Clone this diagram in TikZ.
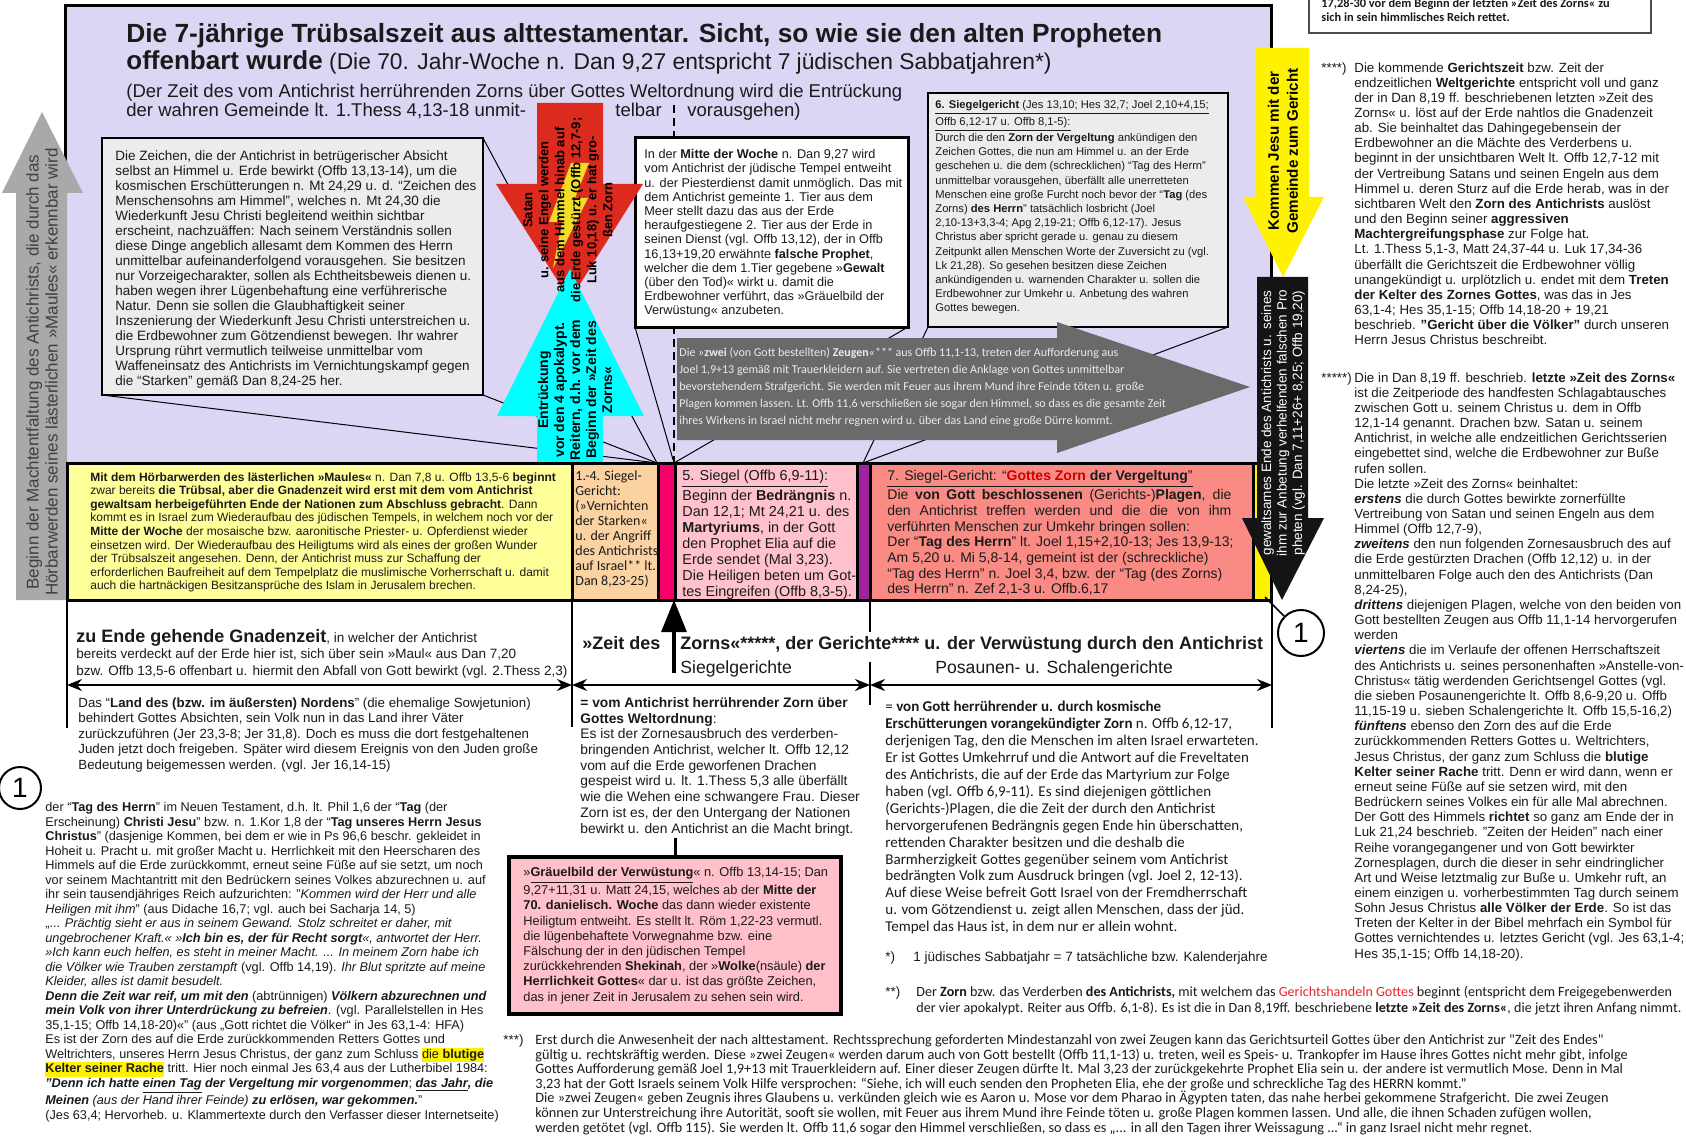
\documentclass[tikz,border=0pt]{standalone}
\usepackage{fontspec}
\setmainfont{Liberation Sans}
\newfontfamily\calfont{Carlito}
\usetikzlibrary{fit,arrows.meta}
\newcommand\fs[2]{\fontsize{#1pt}{#2pt}\selectfont}
\newcommand\jl[1]{\makebox[172pt][s]{#1}}
\newcommand\hly[1]{{\setlength{\fboxsep}{0pt}\colorbox{yellow}{\strut #1}}}
\definecolor{lav}{HTML}{DCD6F4}
\definecolor{boxg}{HTML}{ECECEC}
\definecolor{ycell}{HTML}{FFFF99}
\definecolor{ocell}{HTML}{FBD3A3}
\definecolor{mcell}{HTML}{F5006A}
\definecolor{pcell}{HTML}{FFC1CC}
\definecolor{vcell}{HTML}{A0229F}
\definecolor{scell}{HTML}{F98B84}
\definecolor{redA}{HTML}{DC2A1E}
\definecolor{bolt}{HTML}{F2DC28}
\definecolor{cyanA}{HTML}{00FFFF}
\definecolor{grayA}{HTML}{A9A9A9}
\definecolor{darkA}{HTML}{6A6A6A}
\definecolor{grb}{HTML}{FFC0C9}
\definecolor{zred}{HTML}{CC0000}
\definecolor{gred}{HTML}{E8262B}
\definecolor{ink}{HTML}{1A1A1A}
\begin{document}
\begin{tikzpicture}[x=0.5pt,y=-0.5pt,
  tx/.style={anchor=north west, inner sep=0pt, align=left, text=ink},
  tb/.style={anchor=base west, inner sep=0pt, text=ink},
  rot/.style={rotate=90, inner sep=0pt, align=center},
  area/.style={inner sep=0pt, draw=black},
  ptr/.style={draw=black, line width=0.5pt},
  vl/.style={draw=black, line width=1pt},
  harr/.style={draw=black, line width=1pt, {Stealth[length=7.5pt,width=6pt]}-{Stealth[length=7.5pt,width=6pt]}}]
\useasboundingbox (0,0) rectangle (1686,1139);
\fill[white] (0,0) rectangle (1686,1139);
\clip (0,0) rectangle (1686,1139);

% top right box (cut off)
\node[fit={(1309,-20) (1651,33)}, area, fill=white, draw=black!70, line width=0.6pt] (trbox) {};
\node[tx, font=\calfont\bfseries\fs{6.2}{7}] (trtext) at (1321,-2) {17,28-30 vor dem Beginn der letzten »Zeit des Zorns« zu\\sich in sein himmlisches Reich rettet.};

% lavender area
\node[fit={(65,6) (1271,463)}, area, fill=lav, line width=1.5pt] (lav) {};

% titles
\node[tb, font=\bfseries\fs{13.15}{15}] (t1) at (126,43) {Die 7-jährige Trübsalszeit aus alttestamentar. Sicht, so wie sie den alten Propheten};
\node[tb, font=\fs{11.4}{14}] (t2) at (126,70) {{\bfseries\fs{13}{15}offenbart wurde} (Die 70. Jahr-Woche n. Dan 9,27 entspricht 7 jüdischen Sabbatjahren*)};
\node[tb, font=\fs{9.25}{10}] (t3) at (126,98) {(Der Zeit des vom Antichrist herrührenden Zorns über Gottes Weltordnung wird die Entrückung};
\node[tb, font=\fs{9.25}{10}] (t4a) at (126,117) {der wahren Gemeinde lt. 1.Thess 4,13-18 unmit-};
\node[tb, font=\fs{9.25}{10}] (t4b) at (615,117) {telbar};
\node[tb, font=\fs{9.25}{10}] (t4c) at (687,117) {vorausgehen)};

% dashed middle line and pointer targets
\coordinate (dtop) at (674,105);
\coordinate (pB) at (674,463);
\coordinate (pA) at (657,463);
\coordinate (pC) at (863,463);
\draw[line width=1.3pt, dash pattern=on 4pt off 2.5pt] (dtop) -- (pB);

% boxes (geometry)
\coordinate (lbNW) at (102,138); \coordinate (lbSE) at (483,395);
\coordinate (mbNW) at (635,138); \coordinate (mbSE) at (908,327);
\coordinate (sbNW) at (928,93);  \coordinate (sbSE) at (1228,327);

% pointer lines
\draw[ptr] (483,138) -- (pA);
\draw[ptr] (483,395) -- (pA);
\draw[ptr] (102,395) -- (pA);
\draw[ptr] (635,327) -- (pB);
\draw[ptr] (908,327) -- (pB);
\draw[ptr] (928,327) -- (pC);
\draw[ptr] (1228,327) -- (pC);

% callout boxes
\node[fit=(lbNW)(lbSE), area, fill=boxg, line width=1pt] (lbox) {};
\node[fit=(mbNW)(mbSE), area, fill=white, line width=1.5pt] (mbox) {};
\node[fit=(sbNW)(sbSE), area, fill=boxg, line width=1pt] (sbox) {};

\node[tx, font=\fs{6.75}{7.5}] (lbtxt) at (115,150) {Die Zeichen, die der Antichrist in betrügerischer Absicht\\selbst an Himmel u. Erde bewirkt (Offb 13,13-14), um die\\kosmischen Erschütterungen n. Mt 24,29 u. d. “Zeichen des\\Menschensohns am Himmel”, welches n. Mt 24,30 die\\Wiederkunft Jesu Christi begleitend weithin sichtbar\\erscheint, nachzuäffen: Nach seinem Verständnis sollen\\diese Dinge angeblich allesamt dem Kommen des Herrn\\unmittelbar aufeinanderfolgend vorausgehen. Sie besitzen\\nur Vorzeigecharakter, sollen als Echtheitsbeweis dienen u.\\haben wegen ihrer Lügenbehaftung eine verführerische\\Natur. Denn sie sollen die Glaubhaftigkeit seiner\\Inszenierung der Wiederkunft Jesu Christi unterstreichen u.\\die Erdbewohner zum Götzendienst bewegen. Ihr wahrer\\Ursprung rührt vermutlich teilweise unmittelbar vom\\Waffeneinsatz des Antichrists im Vernichtungskampf gegen\\die “Starken” gemäß Dan 8,24-25 her.};

\node[tx, font=\fs{6.35}{7.1}] (mbtxt) at (644,149) {In der \textbf{Mitte der Woche} n. Dan 9,27 wird\\vom Antichrist der jüdische Tempel entweiht\\u. der Piesterdienst damit unmöglich. Das mit\\dem Antichrist gemeinte 1. Tier aus dem\\Meer stellt dazu das aus der Erde\\heraufgestiegene 2. Tier aus der Erde in\\seinen Dienst (vgl. Offb 13,12), der in Offb\\16,13+19,20 erwähnte \textbf{falsche Prophet},\\welcher die dem 1.Tier gegebene »\textbf{Gewalt}\\(über den Tod)« wirkt u. damit die\\Erdbewohner verführt, das »Gräuelbild der\\Verwüstung« anzubeten.};

\node[tx, font=\fs{5.6}{7.1}] (sbtxt) at (935,100) {\underline{\textbf{6. Siegelgericht} (Jes 13,10; Hes 32,7; Joel 2,10+4,15;}\\\underline{Offb 6,12-17 u. Offb 8,1-5):}\\Durch die den \textbf{Zorn der Vergeltung} ankündigen den\\Zeichen Gottes, die nun am Himmel u. an der Erde\\geschehen u. die dem (schrecklichen) “Tag des Herrn”\\unmittelbar vorausgehen, überfällt alle unerretteten\\Menschen eine große Furcht noch bevor der “\textbf{Tag} (des\\Zorns) \textbf{des Herrn}” tatsächlich losbricht (Joel\\2,10-13+3,3-4; Apg 2,19-21; Offb 6,12-17). Jesus\\Christus aber spricht gerade u. genau zu diesem\\Zeitpunkt allen Menschen Worte der Zuversicht zu (vgl.\\Lk 21,28). So gesehen besitzen diese Zeichen\\ankündigenden u. warnenden Charakter u. sollen die\\Erdbewohner zur Umkehr u. Anbetung des wahren\\Gottes bewegen.};

% dark gray arrow
\fill[darkA] (677,338) -- (1057,338) -- (1057,322) -- (1250,387) -- (1057,453) -- (1057,440) -- (677,440) -- cycle;
\node[tx, font=\calfont\fs{6}{8.5}, text=white!92!black] (gatxt) at (679,347) {Die »\textbf{zwei} (von Gott bestellten) \textbf{Zeugen}«*** aus Offb 11,1-13, treten der Aufforderung aus\\Joel 1,9+13 gemäß mit Trauerkleidern auf. Sie vertreten die Anklage von Gottes unmittelbar\\bevorstehendem Strafgericht. Sie werden mit Feuer aus ihrem Mund ihre Feinde töten u. große\\Plagen kommen lassen. Lt. Offb 11,6 verschließen sie sogar den Himmel, so dass es die gesamte Zeit\\ihres Wirkens in Israel nicht mehr regnen wird u. über das Land eine große Dürre kommt.};

% red and cyan arrows
\fill[redA] (537,103) -- (603,103) -- (603,184) -- (643,184) -- (570,300) -- (496,184) -- (537,184) -- cycle;
\fill[bolt] (571,163) -- (589,163) -- (575,198) -- (588,198) -- (553,268) -- (562,222) -- (549,222) -- cycle;
\fill[cyanA] (570,269) -- (644,416) -- (603,416) -- (603,463) -- (537,463) -- (537,416) -- (497,416) -- cycle;
\node[rot, font=\bfseries\fs{6.5}{8}] (redtxt) at (568,210) {Satan\\u. seine Engel werden\\aus dem Himmel hinab auf\\die Erde gestürzt (Offb 12,7-9;\\Luk 10,18) u. er hat gro-\\ßen Zorn};
\node[rot, font=\bfseries\fs{7}{8}] (cyantxt) at (575,390) {Entrückung\\vor den 4 apokalypt.\\Reitern, d.h. vor dem\\Beginn der »Zeit des\\Zorns«};

% left gray arrow
\fill[grayA] (16,600) -- (16,193) -- (2,193) -- (42,112) -- (83,193) -- (67,193) -- (67,600) -- cycle;
\node[rot, font=\fs{8.5}{9.5}, text=black!75] (graytxt) at (42,372) {Beginn der Machtentfaltung des Antichrists, die durch das\\Hörbarwerden seines lästerlichen »Maules« erkennbar wird};

% timeline cells
\node[fit={(67,463) (572,600)}, area, fill=ycell, line width=1.5pt] (cY) {};
\node[fit={(572,463) (658,600)}, area, fill=ocell, line width=1.5pt] (cO) {};
\node[fit={(658,463) (675,600)}, area, fill=mcell, line width=1.5pt] (cM) {};
\node[fit={(675,463) (857,600)}, area, fill=pcell, line width=1.5pt] (cP) {};
\node[fit={(857,463) (870,600)}, area, fill=vcell, line width=1.5pt] (cV) {};
\node[fit={(870,463) (1253,600)}, area, fill=scell, line width=1.5pt] (cS) {};
\node[fit={(1253,463) (1271,600)}, area, fill=yellow, line width=1.5pt] (cYs) {};

\node[tx, font=\fs{6}{6.8}] (ytxt) at (90,472) {\textbf{Mit dem Hörbarwerden des lästerlichen »Maules«} n. Dan 7,8 u. Offb 13,5-6 \textbf{beginnt}\\zwar bereits \textbf{die Trübsal, aber die Gnadenzeit wird erst mit dem vom Antichrist}\\\textbf{gewaltsam herbeigeführten Ende der Nationen zum Abschluss gebracht}. Dann\\kommt es in Israel zum Wiederaufbau des jüdischen Tempels, in welchem noch vor der\\\textbf{Mitte der Woche} der mosaische bzw. aaronitische Priester- u. Opferdienst wieder\\einsetzen wird. Der Wiederaufbau des Heiligtums wird als eines der großen Wunder\\der Trübsalszeit angesehen. Denn, der Antichrist muss zur Schaffung der\\erforderlichen Baufreiheit auf dem Tempelplatz die muslimische Vorherrschaft u. damit\\auch die hartnäckigen Besitzansprüche des Islam in Jerusalem brechen.};
\node[tx, font=\calfont\fs{7}{7.5}] (otxt) at (575,470) {1.-4. Siegel-\\Gericht:\\(»Vernichten\\der Starken«\\u. der Angriff\\des Antichrists\\auf Israel** lt.\\Dan 8,23-25)};
\node[tx, font=\fs{7.2}{8}] (ptxt) at (682,470) {\underline{5. Siegel (Offb 6,9-11):}\\Beginn der \textbf{Bedrängnis} n.\\Dan 12,1; Mt 24,21 u. des\\\textbf{Martyriums}, in der Gott\\den Prophet Elia auf die\\Erde sendet (Mal 3,23).\\Die Heiligen beten um Got-\\tes Eingreifen (Offb 8,3-5).};
\node[tx, font=\fs{7}{7.85}] (stxt) at (887,470) {\underline{7. Siegel-Gericht: “\textcolor{zred}{\textbf{Gottes Zorn}} \textbf{der Vergeltung}”}\\\jl{Die \textbf{von Gott beschlossenen} (Gerichts-)\textbf{Plagen}, die}\\\jl{den Antichrist treffen werden und die die von ihm}\\verführten Menschen zur Umkehr bringen sollen:\\Der “\textbf{Tag des Herrn}” lt. Joel 1,15+2,10-13; Jes 13,9-13;\\Am 5,20 u. Mi 5,8-14, gemeint ist der (schreckliche)\\“Tag des Herrn” n. Joel 3,4, bzw. der “Tag (des Zorns)\\des Herrn” n. Zef 2,1-3 u. Offb.6,17};

% yellow and black arrows (right)
\fill[yellow] (1256,48) -- (1309,48) -- (1309,197) -- (1324,197) -- (1283,277) -- (1243,197) -- (1256,197) -- cycle;
\node[rot, font=\bfseries\fs{7.6}{9.5}] (yatxt) at (1283,151) {Kommen Jesu mit der\\Gemeinde zum Gericht};
\fill[black!92] (1257,277) -- (1308,277) -- (1308,518) -- (1324,518) -- (1282,600) -- (1242,518) -- (1257,518) -- cycle;
\node[rot, font=\fs{6.75}{7.75}, text=white] (batxt) at (1283,423) {gewaltsames Ende des Antichrists u. seines\\ihm zur Anbetung verhelfenden falschen Pro\\pheten (vgl. Dan 7,11+26+ 8,25; Offb 19,20)};

% time axis
\coordinate (v0a) at (67,600);   \coordinate (v0b) at (67,728);
\coordinate (v1a) at (572,600);  \coordinate (v1b) at (572,727);
\coordinate (v2a) at (870,600);  \coordinate (v2b) at (870,632);
\coordinate (v2c) at (870,662);  \coordinate (v2d) at (870,705);
\coordinate (v3a) at (1272,600); \coordinate (v3b) at (1272,728);
\draw[vl] (v0a) -- (v0b); \draw[vl] (v1a) -- (v1b);
\draw[vl] (v2a) -- (v2b); \draw[vl] (v2c) -- (v2d);
\draw[vl] (v3a) -- (v3b);
\coordinate (h0) at (67,685); \coordinate (h1) at (572,685);
\coordinate (h2) at (870,685); \coordinate (h3) at (1272,685);
\draw[harr] (h0) -- (h1);
\draw[harr] (h1) -- (h2);
\draw[harr] (h2) -- (h3);
\coordinate (upb) at (674,673); \coordinate (upt) at (674,600);
\draw[line width=1.6pt, -{Triangle[length=16pt,width=12.5pt]}] (upb) -- (upt);

\node[tb, font=\fs{6.75}{7.75}] (ze1) at (76,642) {{\bfseries\fs{9}{10}zu Ende gehende Gnadenzeit}, in welcher der Antichrist};
\node[tb, font=\fs{6.75}{7.75}] (ze2) at (76,658) {bereits verdeckt auf der Erde hier ist, sich über sein »Maul« aus Dan 7,20};
\node[tb, font=\fs{6.75}{7.75}] (ze3) at (76,675) {bzw. Offb 13,5-6 offenbart u. hiermit den Abfall von Gott bewirkt (vgl. 2.Thess 2,3)};
\node[tb, font=\bfseries\fs{9}{10}] (zd1) at (582,649) {»Zeit des};
\node[tb, font=\bfseries\fs{9}{10}] (zd2) at (680,649) {Zorns«*****, der Gerichte**** u. der Verwüstung durch den Antichrist};
\node[tb, font=\fs{8.8}{10}] (sg) at (680,673) {Siegelgerichte};
\node[tb, font=\fs{8.8}{10}] (ps) at (935,673) {Posaunen- u. Schalengerichte};

% circles
\node[circle, draw, line width=1pt, minimum size=23pt, inner sep=0pt, font=\fs{14}{16}] (c1r) at (1301,633) {1};
\coordinate (bap) at (1265,597);
\draw[line width=0.8pt] (bap) -- (c1r);
\node[circle, draw, line width=1pt, minimum size=21pt, inner sep=0pt, font=\fs{14}{16}] (c1l) at (20,788) {1};

% lower texts
\node[tx, font=\fs{6.65}{7.75}] (landtxt) at (78,697) {Das “\textbf{Land des (bzw. im äußersten) Nordens}” (die ehemalige Sowjetunion)\\behindert Gottes Absichten, sein Volk nun in das Land ihrer Väter\\zurückzuführen (Jer 23,3-8; Jer 31,8). Doch es muss die dort festgehaltenen\\Juden jetzt doch freigeben. Später wird diesem Ereignis von den Juden große\\Bedeutung beigemessen werden. (vgl. Jer 16,14-15)};

\node[tx, font=\fs{6.9}{7.85}] (midtxt) at (580,697) {\textbf{= vom Antichrist herrührender Zorn über}\\\textbf{Gottes Weltordnung}:\\Es ist der Zornesausbruch des verderben-\\bringenden Antichrist, welcher lt. Offb 12,12\\vom auf die Erde geworfenen Drachen\\gespeist wird u. lt. 1.Thess 5,3 alle überfällt\\wie die Wehen eine schwangere Frau. Dieser\\Zorn ist es, der den Untergang der Nationen\\bewirkt u. den Antichrist an die Macht bringt.};

\node[fit={(509,857) (841,1014)}, area, fill=grb, line width=1.6pt] (grbox) {};
\coordinate (mtb) at (675,838);
\draw[line width=1.5pt] (mtb) -- (grbox.north);
\node[tx, font=\fs{6.4}{7.6}] (grtxt) at (523,867) {»\underline{\textbf{Gräuelbild der Verwüstung}}« n. Offb 13,14-15; Dan\\9,27+11,31 u. Matt 24,15, welches ab der \textbf{Mitte der}\\\textbf{70. danielisch. Woche} das dann wieder existente\\Heiligtum entweiht. Es stellt lt. Röm 1,22-23 vermutl.\\die lügenbehaftete Vorwegnahme bzw. eine\\Fälschung der in den jüdischen Tempel\\zurückkehrenden \textbf{Shekinah}, der »\textbf{Wolke}(nsäule) \textbf{der}\\\textbf{Herrlichkeit Gottes}« dar u. ist das größte Zeichen,\\das in jener Zeit in Jerusalem zu sehen sein wird.};

\node[tx, font=\calfont\fs{7.5}{8.45}] (rmtxt) at (885,701) {= \textbf{von Gott herrührender u. durch kosmische}\\\textbf{Erschütterungen vorangekündigter Zorn} n. Offb 6,12-17,\\derjenigen Tag, den die Menschen im alten Israel erwarteten.\\Er ist Gottes Umkehrruf und die Antwort auf die Freveltaten\\des Antichrists, die auf der Erde das Martyrium zur Folge\\haben (vgl. Offb 6,9-11). Es sind diejenigen göttlichen\\(Gerichts-)Plagen, die die Zeit der durch den Antichrist\\hervorgerufenen Bedrängnis gegen Ende hin überschatten,\\rettenden Charakter besitzen und die deshalb die\\Barmherzigkeit Gottes gegenüber seinem vom Antichrist\\bedrängten Volk zum Ausdruck bringen (vgl. Joel 2, 12-13).\\Auf diese Weise befreit Gott Israel von der Fremdherrschaft\\u. vom Götzendienst u. zeigt allen Menschen, dass der jüd.\\Tempel das Haus ist, in dem nur er allein wohnt.};

\node[tb, font=\fs{6.75}{8}] (f1m) at (885,961) {*)};
\node[tb, font=\fs{6.75}{8}] (f1t) at (913,961) {1 jüdisches Sabbatjahr = 7 tatsächliche bzw. Kalenderjahre};

\node[tx, font=\fs{6.7}{8}] (f2m) at (885,986) {**)};
\node[tx, font=\calfont\fs{7.05}{8}] (f2t) at (916,986) {Der \textbf{Zorn} bzw. das Verderben \textbf{des Antichrists,} mit welchem das \textcolor{gred}{Gerichtshandeln Gottes} beginnt (entspricht dem Freigegebenwerden\\der vier apokalypt. Reiter aus Offb. 6,1-8). Es ist die in Dan 8,19ff. beschriebene \textbf{letzte »Zeit des Zorns«}, die jetzt ihren Anfang nimmt.};

\node[tx, font=\fs{6.7}{8}] (f3m) at (503,1034) {***)};
\node[tx, font=\calfont\fs{7.15}{7.33}] (f3t) at (535,1034) {Erst durch die Anwesenheit der nach alttestament. Rechtssprechung geforderten Mindestanzahl von zwei Zeugen kann das Gerichtsurteil Gottes über den Antichrist zur "Zeit des Endes"\\gültig u. rechtskräftig werden. Diese »zwei Zeugen« werden darum auch von Gott bestellt (Offb 11,1-13) u. treten, weil es Speis- u. Trankopfer im Hause ihres Gottes nicht mehr gibt, infolge\\Gottes Aufforderung gemäß Joel 1,9+13 mit Trauerkleidern auf. Einer dieser Zeugen dürfte lt. Mal 3,23 der zurückgekehrte Prophet Elia sein u. der andere ist vermutlich Mose. Denn in Mal\\3,23 hat der Gott Israels seinem Volk Hilfe versprochen: “Siehe, ich will euch senden den Propheten Elia, ehe der große und schreckliche Tag des HERRN kommt.”\\Die »zwei Zeugen« geben Zeugnis ihres Glaubens u. verkünden gleich wie es Aaron u. Mose vor dem Pharao in Ägypten taten, das nahe herbei gekommene Strafgericht. Die zwei Zeugen\\können zur Unterstreichung ihre Autorität, sooft sie wollen, mit Feuer aus ihrem Mund ihre Feinde töten u. große Plagen kommen lassen. Und alle, die ihnen Schaden zufügen wollen,\\werden getötet (vgl. Offb 115). Sie werden lt. Offb 11,6 sogar den Himmel verschließen, so dass es „... in all den Tagen ihrer Weissagung ...“ in ganz Israel nicht mehr regnet.};

\node[tx, font=\fs{6.35}{7.25}] (lbot) at (45,802) {der “\textbf{Tag des Herrn}” im Neuen Testament, d.h. lt. Phil 1,6 der “\textbf{Tag} (der\\Erscheinung) \textbf{Christi Jesu}” bzw. n. 1.Kor 1,8 der “\textbf{Tag unseres Herrn Jesus}\\\textbf{Christus}” (dasjenige Kommen, bei dem er wie in Ps 96,6 beschr. gekleidet in\\Hoheit u. Pracht u. mit großer Macht u. Herrlichkeit mit den Heerscharen des\\Himmels auf die Erde zurückkommt, erneut seine Füße auf sie setzt, um noch\\vor seinem Machtantritt mit den Bedrückern seines Volkes abzurechnen u. auf\\ihr sein tausendjähriges Reich aufzurichten: "\textit{Kommen wird der Herr und alle}\\\textit{Heiligen mit ihm}" (aus Didache 16,7; vgl. auch bei Sacharja 14, 5)\\„... \textit{Prächtig sieht er aus in seinem Gewand. Stolz schreitet er daher, mit}\\\textit{ungebrochener Kraft.« »\textbf{Ich bin es, der für Recht sorgt}«, antwortet der Herr.}\\\textit{»Ich kann euch helfen, es steht in meiner Macht. ... In meinem Zorn habe ich}\\\textit{die Völker wie Trauben zerstampft} (vgl. Offb 14,19). \textit{Ihr Blut spritzte auf meine}\\\textit{Kleider, alles ist damit besudelt.}\\\textbf{\textit{Denn die Zeit war reif, um mit den}} (abtrünnigen) \textbf{\textit{Völkern abzurechnen und}}\\\textbf{\textit{mein Volk von ihrer Unterdrückung zu befreien}}. (vgl. Parallelstellen in Hes\\35,1-15; Offb 14,18-20)«" (aus „Gott richtet die Völker“ in Jes 63,1-4: HFA)\\Es ist der Zorn des auf die Erde zurückkommenden Retters Gottes und\\Weltrichters, unseres Herrn Jesus Christus, der ganz zum Schluss \hly{die \textbf{blutige}}\\\hly{\textbf{Kelter seiner Rache}} tritt. Hier noch einmal Jes 63,4 aus der Lutherbibel 1984:\\\textbf{\textit{"Denn ich hatte \underline{einen Tag} der Vergeltung mir vorgenommen}}; \textbf{\textit{\underline{das Jahr}, die}}\\\textbf{\textit{Meinen}} \textit{(aus der Hand ihrer Feinde)} \textbf{\textit{zu erlösen, war gekommen.}}"\\(Jes 63,4; Hervorheb. u. Klammertexte durch den Verfasser dieser Internetseite)};

% right column footnotes
\node[tx, font=\fs{6.65}{7.58}] (f4m) at (1321,62) {****)};
\node[tx, font=\fs{6.65}{7.58}] (f4t) at (1354,62) {Die kommende \textbf{Gerichtszeit} bzw. Zeit der\\endzeitlichen \textbf{Weltgerichte} entspricht voll und ganz\\der in Dan 8,19 ff. beschriebenen letzten »Zeit des\\Zorns« u. löst auf der Erde nahtlos die Gnadenzeit\\ab. Sie beinhaltet das Dahingegebensein der\\Erdbewohner an die Mächte des Verderbens u.\\beginnt in der unsichtbaren Welt lt. Offb 12,7-12 mit\\der Vertreibung Satans und seinen Engeln aus dem\\Himmel u. deren Sturz auf die Erde herab, was in der\\sichtbaren Welt den \textbf{Zorn des Antichrists} auslöst\\und den Beginn seiner \textbf{aggressiven}\\\textbf{Machtergreifungsphase} zur Folge hat.\\Lt. 1.Thess 5,1-3, Matt 24,37-44 u. Luk 17,34-36\\überfällt die Gerichtszeit die Erdbewohner völlig\\unangekündigt u. urplötzlich u. endet mit dem \textbf{Treten}\\\textbf{der Kelter des Zornes Gottes}, was das in Jes\\63,1-4; Hes 35,1-15; Offb 14,18-20 + 19,21\\beschrieb. \textbf{"Gericht über die Völker"} durch unseren\\Herrn Jesus Christus beschreibt.};

\node[tx, font=\fs{6.65}{7.58}] (f5m) at (1321,372) {*****)};
\node[tx, font=\fs{6.65}{7.58}] (f5t) at (1354,372) {Die in Dan 8,19 ff. beschrieb. \textbf{letzte »Zeit des Zorns«}\\ist die Zeitperiode des handfesten Schlagabtausches\\zwischen Gott u. seinem Christus u. dem in Offb\\12,1-14 genannt. Drachen bzw. Satan u. seinem\\Antichrist, in welche alle endzeitlichen Gerichtsserien\\eingebettet sind, welche die Erdbewohner zur Buße\\rufen sollen.\\Die letzte »Zeit des Zorns« beinhaltet:\\\textbf{\textit{erstens}} die durch Gottes bewirkte zornerfüllte\\Vertreibung von Satan und seinen Engeln aus dem\\Himmel (Offb 12,7-9),\\\textbf{\textit{zweitens}} den nun folgenden Zornesausbruch des auf\\die Erde gestürzten Drachen (Offb 12,12) u. in der\\unmittelbaren Folge auch den des Antichrists (Dan\\8,24-25),\\\textbf{\textit{drittens}} diejenigen Plagen, welche von den beiden von\\Gott bestellten Zeugen aus Offb 11,1-14 hervorgerufen\\werden\\\textbf{\textit{viertens}} die im Verlaufe der offenen Herrschaftszeit\\des Antichrists u. seines personenhaften »Anstelle-von-\\Christus« tätig werdenden Gerichtsengel Gottes (vgl.\\die sieben Posaunengerichte lt. Offb 8,6-9,20 u. Offb\\11,15-19 u. sieben Schalengerichte lt. Offb 15,5-16,2)\\\textbf{\textit{fünftens}} ebenso den Zorn des auf die Erde\\zurückkommenden Retters Gottes u. Weltrichters,\\Jesus Christus, der ganz zum Schluss die \textbf{blutige}\\\textbf{Kelter seiner Rache} tritt. Denn er wird dann, wenn er\\erneut seine Füße auf sie setzen wird, mit den\\Bedrückern seines Volkes ein für alle Mal abrechnen.\\Der Gott des Himmels \textbf{richtet} so ganz am Ende der in\\Luk 21,24 beschrieb. "Zeiten der Heiden" nach einer\\Reihe vorangegangener und von Gott bewirkter\\Zornesplagen, durch die dieser in sehr eindringlicher\\Art und Weise letztmalig zur Buße u. Umkehr ruft, an\\einem einzigen u. vorherbestimmten Tag durch seinem\\Sohn Jesus Christus \textbf{alle Völker der Erde}. So ist das\\Treten der Kelter in der Bibel mehrfach ein Symbol für\\Gottes vernichtendes u. letztes Gericht (vgl. Jes 63,1-4;\\Hes 35,1-15; Offb 14,18-20).};
\end{tikzpicture}
\end{document}
